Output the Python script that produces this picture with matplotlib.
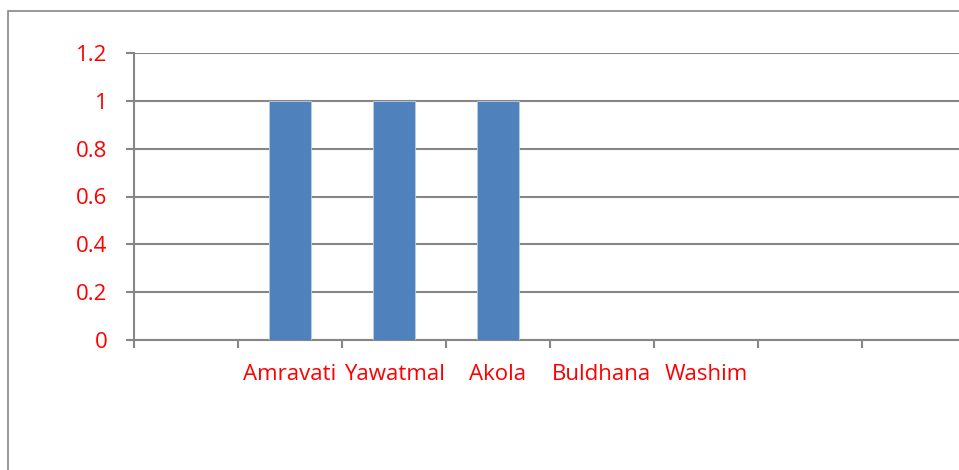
import numpy as np
import matplotlib
matplotlib.use("Agg")
from matplotlib import pyplot as plt
from matplotlib.patches import Rectangle

districts = ["", "Amravati", "Yawatmal", "Akola", "Buldhana", "Washim", "", "", ""]
values = [np.nan, 1, 1, 1, 0, 0, np.nan, np.nan, np.nan]
yticks = [0, 0.2, 0.4, 0.6, 0.8, 1, 1.2]
ylabels = ["0", "0.2", "0.4", "0.6", "0.8", "1", "1.2"]

plt.rcParams['font.family'] = ['Open Sans', 'DejaVu Sans']
grey = '#868686'

fig = plt.figure(figsize=(9.59, 4.7), dpi=100)
# outer chart frame (cut off at right and bottom)
fig.patches.append(Rectangle((8/959, -0.1), 1.2, (459/470) + 0.1, transform=fig.transFigure,
                             fill=False, edgecolor=grey, linewidth=1.2))

ax = fig.add_axes([134/959, 130/470, 1 - 134/959, 287/470])
x = np.arange(len(districts))
ax.bar(x, values, width=0.4, color='#4F81BD', edgecolor='#B9CDE5', linewidth=0.6, zorder=3)

ax.set_yticks(yticks)
ax.set_yticklabels(ylabels)
ax.set_ylim(0, 1.2)
ax.set_xticks(x - 0.5, minor=False)
ax.set_xticklabels([])
ax.set_xticks(x, minor=True)
ax.set_xticklabels(districts, minor=True)
ax.set_xlim(-0.5, -0.5 + (959 - 134) / 104)

ax.grid(axis='y', color=grey, linewidth=1.5, zorder=0)
for s in ['top', 'right']:
    ax.spines[s].set_visible(False)
for s in ['left', 'bottom']:
    ax.spines[s].set_color(grey)
    ax.spines[s].set_linewidth(1.5)

ax.tick_params(axis='y', which='major', length=6, width=1.5, color=grey,
               labelcolor='red', labelsize=16, pad=13)
ax.tick_params(axis='x', which='major', length=6, width=1.5, color=grey, direction='out')
ax.tick_params(axis='x', which='minor', length=0, labelcolor='red', labelsize=16, pad=17)

fig.savefig("out.png", dpi=100)
